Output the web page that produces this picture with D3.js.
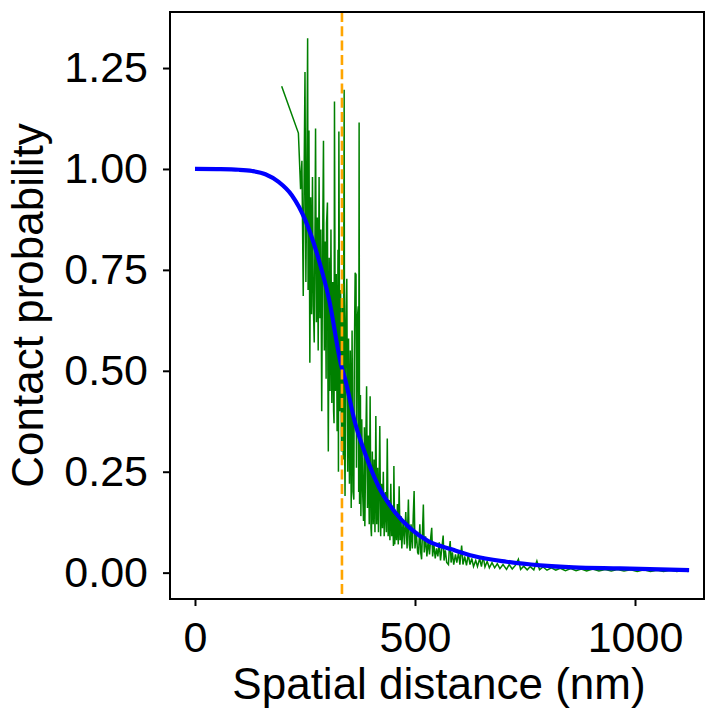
<!DOCTYPE html>
<html lang="en">
<head>
<meta charset="utf-8">
<title>Contact probability</title>
<script src="https://cdn.jsdelivr.net/npm/d3@7"></script>
<style>
  body { margin: 0; background: #fff; }
  text { font-family: "Liberation Sans", Arial, Helvetica, sans-serif; fill: #000; }
</style>
</head>
<body>
<svg id="chart" width="705" height="711"></svg>
<script>
/** measured contact probability (green) */
var distance = [197, 235, 240, 243, 246, 248, 250, 252, 254, 256, 257, 259, 261, 263, 265, 267, 269, 271, 273, 274,
    276, 278, 280, 282, 284, 286, 288, 290, 292, 294, 296, 298, 299, 301, 302, 303, 305, 307, 309, 311,
    313, 315, 316, 317, 319, 321, 323, 325, 326, 327, 329, 331, 333, 335, 337, 339, 340, 341, 343, 345,
    347, 349, 351, 353, 355, 357, 359, 361, 362, 364, 366, 367, 369, 371, 372, 373, 374, 376, 377, 379,
    381, 383, 385, 386, 388, 390, 392, 394, 396, 398, 400, 401, 403, 405, 407, 409, 411, 413, 415, 417,
    420, 422, 424, 426, 428, 430, 433, 435, 437, 439, 441, 443, 445, 447, 449, 451, 452, 454, 456, 458,
    460, 462, 464, 466, 468, 470, 473, 476, 479, 482, 485, 487, 489, 491, 494, 496, 498, 500, 503, 506,
    508, 511, 513, 515, 517, 519, 521, 524, 527, 530, 533, 536, 538, 540, 543, 546, 549, 552, 555, 558,
    561, 564, 566, 569, 572, 576, 578, 580, 582, 585, 588, 592, 595, 599, 602, 606, 609, 613, 617, 621,
    625, 629, 633, 638, 642, 647, 651, 655, 659, 664, 669, 675, 681, 687, 693, 700, 708, 714, 721, 728,
    735, 740, 747, 755, 762, 770, 777, 783, 791, 800, 810, 820, 830, 842, 854, 866, 878, 890, 904, 918,
    932, 946, 960, 975, 990, 1005, 1020, 1035, 1050, 1065, 1080, 1095, 1110, 1120];
var contact = [1.205, 1.089, 0.95, 1.02, 0.685, 0.98, 1.24, 0.72, 0.96, 1.324, 0.70, 1.095, 0.52, 0.93, 0.64, 0.98, 0.66, 0.57, 0.90, 1.10,
    0.62, 0.88, 0.55, 0.98, 0.63, 0.85, 0.40, 0.80, 1.07, 0.55, 0.82, 0.48, 0.866, 0.917, 0.50, 0.30, 0.78, 0.45, 0.85, 0.42,
    0.72, 0.40, 0.37, 1.167, 0.45, 0.74, 0.35, 0.80, 0.25, 1.093, 0.40, 0.70, 0.30, 0.66, 0.28, 1.196, 0.32, 0.19, 0.62, 0.728,
    0.25, 0.58, 0.22, 0.55, 0.16, 0.60, 0.20, 0.181, 0.52, 0.743, 0.738, 0.26, 0.63, 0.66, 0.20, 1.115, 0.17, 0.44, 0.14, 0.38,
    0.20, 0.128, 0.36, 0.115, 0.30, 0.462, 0.16, 0.34, 0.12, 0.437, 0.11, 0.09, 0.30, 0.12, 0.28, 0.10, 0.388, 0.12, 0.26, 0.10,
    0.363, 0.09, 0.22, 0.11, 0.25, 0.09, 0.20, 0.10, 0.332, 0.09, 0.18, 0.08, 0.22, 0.09, 0.16, 0.066, 0.264, 0.07, 0.15, 0.08,
    0.17, 0.07, 0.214, 0.08, 0.14, 0.06, 0.13, 0.07, 0.15, 0.06, 0.181, 0.07, 0.054, 0.12, 0.06, 0.14, 0.202, 0.06, 0.10, 0.05,
    0.045, 0.12, 0.05, 0.033, 0.10, 0.169, 0.05, 0.09, 0.04, 0.08, 0.045, 0.09, 0.111, 0.04, 0.07, 0.035, 0.06, 0.04, 0.075, 0.03,
    0.06, 0.092, 0.03, 0.055, 0.025, 0.02, 0.06, 0.078, 0.025, 0.05, 0.02, 0.045, 0.025, 0.05, 0.02, 0.067, 0.02, 0.04, 0.018, 0.045,
    0.02, 0.035, 0.015, 0.03, 0.015, 0.035, 0.015, 0.04, 0.014, 0.028, 0.012, 0.025, 0.012, 0.022, 0.01, 0.02, 0.008, 0.02, 0.009, 0.018,
    0.033, 0.008, 0.016, 0.007, 0.015, 0.007, 0.029, 0.007, 0.014, 0.006, 0.012, 0.006, 0.011, 0.005, 0.01, 0.005, 0.009, 0.004, 0.009, 0.004,
    0.008, 0.004, 0.008, 0.004, 0.007, 0.003, 0.007, 0.003, 0.006, 0.003, 0.006, 0.003, 0.005, 0.003];

/** fitted curve (blue) */
var fitDistance = [0, 50, 100, 130, 160, 190, 220, 250, 280, 305, 333, 341, 364, 386, 417, 455, 492, 530, 583, 633, 708, 784, 860, 966, 1123];
var fitContact = [1.000, 0.9995, 0.998, 0.995, 0.987, 0.968, 0.935, 0.875, 0.78, 0.675, 0.51, 0.48, 0.37, 0.297, 0.214, 0.149, 0.107, 0.078, 0.058, 0.041, 0.027, 0.018, 0.013, 0.0106, 0.0064];

/** threshold distance (orange dashed) */
var threshold = 334;

var xTicks = [0, 500, 1000];
var yTicks = [0, 0.25, 0.5, 0.75, 1.0, 1.25];

function drawChart() {
    var svg = d3.select("#chart"),
        plotLeft = 170, plotRight = 704, plotTop = 12, plotBottom = 599;

    var xScale = d3.scaleLinear().domain([-56.8, 1156.8]).range([plotLeft, plotRight]),
        yScale = d3.scaleLinear().domain([-0.0653, 1.3888]).range([plotBottom, plotTop]);

    /** data lines */
    var line = d3.line()
        .x(function(d) { return xScale(d[0]); })
        .y(function(d) { return yScale(d[1]); });

    svg.append("path")
        .datum(d3.zip(distance, contact))
        .attr("fill", "none")
        .attr("stroke", "#008000")
        .attr("stroke-width", 1.5)
        .attr("d", line);

    svg.append("path")
        .datum(d3.zip(fitDistance, fitContact))
        .attr("fill", "none")
        .attr("stroke", "#0000ff")
        .attr("stroke-width", 4.2)
        .attr("d", line.curve(d3.curveMonotoneX));

    svg.append("line")
        .attr("x1", xScale(threshold)).attr("x2", xScale(threshold))
        .attr("y1", plotTop).attr("y2", plotBottom)
        .attr("stroke", "#ffa500")
        .attr("stroke-width", 2.6)
        .attr("stroke-dasharray", "10,4.3");

    /** axes */
    var xAxis = svg.append("g")
        .attr("transform", "translate(0," + plotBottom + ")")
        .call(d3.axisBottom(xScale).tickValues(xTicks).tickSize(7).tickPadding(15).tickFormat(d3.format("d")));

    var yAxis = svg.append("g")
        .attr("transform", "translate(" + plotLeft + ",0)")
        .call(d3.axisLeft(yScale).tickValues(yTicks).tickSize(7).tickPadding(15).tickFormat(d3.format(".2f")));

    [xAxis, yAxis].forEach(function(g) {
        g.select(".domain").remove();
        g.selectAll(".tick line").attr("stroke", "#000").attr("stroke-width", 2);
        g.selectAll(".tick text").attr("font-size", 43).attr("fill", "#000");
    });

    /** frame */
    svg.append("rect")
        .attr("x", plotLeft).attr("y", plotTop)
        .attr("width", plotRight - plotLeft).attr("height", plotBottom - plotTop)
        .attr("fill", "none")
        .attr("stroke", "#000")
        .attr("stroke-width", 2);

    /** labels */
    svg.append("text")
        .attr("x", (plotLeft + plotRight) / 2 + 2)
        .attr("y", 699)
        .attr("text-anchor", "middle")
        .attr("font-size", 44)
        .text("Spatial distance (nm)");

    svg.append("text")
        .attr("transform", "translate(43," + (plotTop + plotBottom) / 2 + ") rotate(-90)")
        .attr("text-anchor", "middle")
        .attr("font-size", 44)
        .text("Contact probability");
}
drawChart();
</script>
</body>
</html>
